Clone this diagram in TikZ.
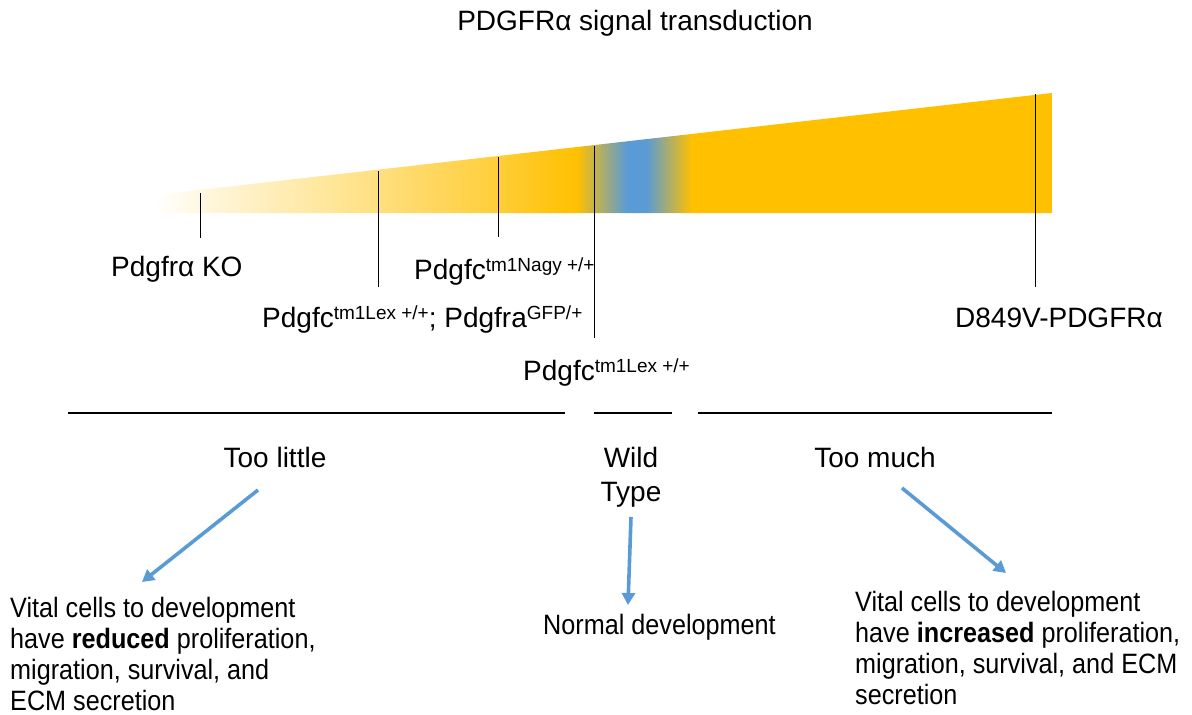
\documentclass[tikz,border=0pt]{standalone}
\usepackage{fontspec}
\setmainfont{Liberation Sans}
\newfontfamily\bodyfont{Liberation Sans}[FakeStretch=0.9]
\usetikzlibrary{arrows.meta}
\definecolor{gold}{HTML}{FFC000}
\definecolor{skyb}{HTML}{5B9BD5}
\colorlet{gA}{gold!12!white}
\colorlet{gB}{gold!50!white}
\colorlet{gC}{gold!78!white}
\pgfdeclarehorizontalshading{wedgeshade}{100bp}{color(0bp)=(white); color(25bp)=(white); color(27.5bp)=(gA); color(37.4bp)=(gB); color(44.1bp)=(gC); color(48.5bp)=(gold); color(51.3bp)=(skyb); color(52.4bp)=(skyb); color(54.9bp)=(gold); color(75bp)=(gold); color(100bp)=(gold)}
\newcommand\sups[1]{\raisebox{8pt}{\fontsize{19}{19}\selectfont #1}}
\tikzset{
  lbl/.style={inner sep=0pt, font=\fontsize{28}{28}\selectfont},
  body/.style={inner sep=0pt, align=left, font=\bodyfont\fontsize{28}{31}\selectfont},
  tick/.style={draw=black, line width=0.9pt},
  rule/.style={draw=black, line width=1.3pt},
  flow/.style={draw=skyb, line width=3.6pt, -{Triangle[length=12pt,width=13pt]}}
}
\begin{document}
\begin{tikzpicture}[x=1pt,y=-1pt]
\useasboundingbox (0,0) rectangle (1192,715);
% wedge
\begin{scope}
\clip (155,195) -- (1052,93) -- (1052,213) -- (155,213) -- cycle;
\shade[shading=wedgeshade] (155,93) rectangle (1052,213);
\end{scope}
% tick marks
\coordinate (t1a) at (200,193); \coordinate (t1b) at (200,238);
\coordinate (t2a) at (378,171); \coordinate (t2b) at (378,287);
\coordinate (t3a) at (498,157); \coordinate (t3b) at (498,237);
\coordinate (t4a) at (594,146); \coordinate (t4b) at (594,338);
\coordinate (t5a) at (1035,94); \coordinate (t5b) at (1035,287);
\draw[tick] (t1a) -- (t1b);
\draw[tick] (t2a) -- (t2b);
\draw[tick] (t3a) -- (t3b);
\draw[tick] (t4a) -- (t4b);
\draw[tick] (t5a) -- (t5b);
% title and labels
\node[lbl, anchor=base] (title) at (635,30) {PDGFRα signal transduction};
\node[lbl, anchor=base west] (ko) at (111,276) {Pdgfrα KO};
\node[lbl, anchor=base west] (nagy) at (414,279) {Pdgfc\sups{tm1Nagy +/+}};
\node[lbl, anchor=base west] (lexgfp) at (262,327) {Pdgfc\sups{tm1Lex +/+}; Pdgfra\sups{GFP/+}};
\node[lbl, anchor=base west] (lex) at (523,380) {Pdgfc\sups{tm1Lex +/+}};
\node[lbl, anchor=base west] (d849) at (955,327) {D849V-PDGFRα};
% rules
\coordinate (r1a) at (68,413); \coordinate (r1b) at (565,413);
\coordinate (r2a) at (594,413); \coordinate (r2b) at (672,413);
\coordinate (r3a) at (698,413); \coordinate (r3b) at (1052,413);
\draw[rule] (r1a) -- (r1b);
\draw[rule] (r2a) -- (r2b);
\draw[rule] (r3a) -- (r3b);
% categories
\node[lbl, anchor=base] (little) at (275,467) {Too little};
\node[lbl, anchor=base] (wild) at (631,467) {Wild};
\node[lbl, anchor=base] (type) at (631,501) {Type};
\node[lbl, anchor=base] (much) at (875,467) {Too much};
% outcomes
\node[body, anchor=north west] (reduced) at (10,597) {Vital cells to development\\have \textbf{reduced} proliferation,\\migration, survival, and\\ECM secretion};
\node[body, anchor=base west] (normal) at (543,634) {Normal development};
\node[body, anchor=north west] (increased) at (855,591) {Vital cells to development\\have \textbf{increased} proliferation,\\migration, survival, and ECM\\secretion};
% arrows
\coordinate (a1s) at (258,490); \coordinate (a1e) at (142,582);
\coordinate (a2s) at (631,517); \coordinate (a2e) at (628,605);
\coordinate (a3s) at (902,488); \coordinate (a3e) at (1006,573);
\draw[flow] (a1s) -- (a1e);
\draw[flow] (a2s) -- (a2e);
\draw[flow] (a3s) -- (a3e);
\end{tikzpicture}
\end{document}
